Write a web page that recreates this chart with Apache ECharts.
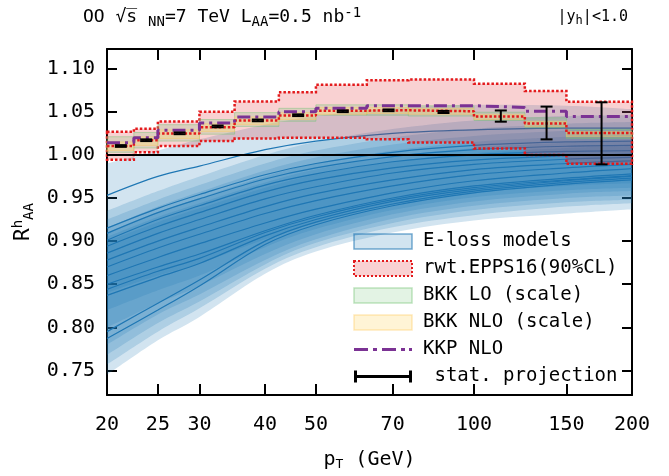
<!DOCTYPE html>
<html>
<head>
<meta charset="utf-8">
<script src="https://cdn.jsdelivr.net/npm/echarts@6/dist/echarts.min.js"></script>
<style>
html,body{margin:0;padding:0;background:#fff;}
#chartmain{width:669px;height:476px;}
</style>
</head>
<body>
<div id="chartmain"></div>
<script>
// pT grid of the E-loss curves (GeV)
var ptGrid=[20,25,30,40,50,70,100,150,200];

// E-loss model lines
var eloss1 =[0.953,0.975,0.987,1.006,1.016,1.025,1.029,1.031,1.031];
var eloss2 =[0.909,0.933,0.949,0.972,0.985,0.998,1.006,1.010,1.011];
var eloss3 =[0.901,0.925,0.941,0.965,0.978,0.992,1.000,1.004,1.005];
var eloss4 =[0.894,0.917,0.933,0.957,0.971,0.985,0.994,0.999,1.001];
var eloss5 =[0.886,0.909,0.925,0.949,0.963,0.979,0.989,0.995,0.997];
var eloss6 =[0.878,0.900,0.916,0.940,0.955,0.971,0.983,0.990,0.993];
var eloss7 =[0.870,0.892,0.908,0.932,0.947,0.964,0.977,0.985,0.989];
var eloss8 =[0.860,0.881,0.897,0.921,0.937,0.956,0.970,0.979,0.984];
var eloss9 =[0.850,0.870,0.885,0.912,0.930,0.950,0.964,0.973,0.978];
var eloss10=[0.844,0.865,0.880,0.910,0.928,0.948,0.962,0.971,0.976];
var eloss11=[0.837,0.858,0.874,0.906,0.925,0.946,0.960,0.970,0.975];
var eloss12=[0.795,0.828,0.855,0.900,0.922,0.943,0.958,0.968,0.973];
var eloss13=[0.787,0.820,0.848,0.896,0.919,0.941,0.956,0.966,0.971];
var eloss14=[0.915,0.938,0.954,0.977,0.990,1.003,1.011,1.015,1.016];

// E-loss model uncertainty bands (lower / upper)
var band1Lo=[0.745,0.785,0.812,0.862,0.888,0.910,0.924,0.932,0.937];
var band1Hi=[0.990,1.005,1.018,1.035,1.045,1.054,1.058,1.057,1.053];
var band2Lo=[0.757,0.795,0.822,0.868,0.893,0.916,0.930,0.940,0.944];
var band2Hi=[0.935,0.958,0.975,1.000,1.015,1.030,1.040,1.045,1.046];
var band3Lo=[0.768,0.805,0.830,0.873,0.898,0.921,0.936,0.945,0.948];
var band3Hi=[0.925,0.948,0.965,0.990,1.005,1.020,1.030,1.036,1.038];
var band4Lo=[0.780,0.815,0.838,0.878,0.902,0.926,0.941,0.950,0.953];
var band4Hi=[0.915,0.940,0.957,0.982,0.997,1.012,1.022,1.028,1.030];
var band5Lo=[0.800,0.828,0.848,0.885,0.908,0.931,0.946,0.955,0.958];
var band5Hi=[0.910,0.933,0.950,0.975,0.990,1.005,1.015,1.021,1.023];
var band6Lo=[0.820,0.843,0.860,0.893,0.914,0.936,0.951,0.959,0.962];
var band6Hi=[0.905,0.928,0.944,0.968,0.983,0.998,1.008,1.014,1.016];
var band7Lo=[0.840,0.860,0.874,0.902,0.921,0.942,0.956,0.964,0.967];
var band7Hi=[0.900,0.922,0.938,0.962,0.977,0.992,1.002,1.008,1.010];

// binned nPDF predictions
var binEdges=[20,22.5,25,30,35,42.5,50,62.5,75,100,125,150,200];
var eppsUp =[1.0267,1.0304,1.0388,1.050,1.062,1.0726,1.0814,1.0867,1.0874,1.0825,1.074,1.0616];
var eppsLo =[0.9943,1.003,1.0103,1.016,1.019,1.0198,1.0198,1.018,1.0145,1.0075,1.000,0.9897];
var eppsMid=[1.0103,1.017,1.0247,1.032,1.040,1.0456,1.0513,1.0517,1.0506,1.0445,1.0365,1.0255];
var bkkLoLo=[1.003,1.008,1.016,1.024,1.033,1.039,1.046,1.046,1.045,1.040,1.0315,1.019];
var bkkLoHi=[1.021,1.026,1.035,1.041,1.049,1.054,1.058,1.058,1.057,1.0495,1.043,1.0296];
var bkkNloLo=[1.005,1.011,1.019,1.027,1.035,1.041,1.047,1.048,1.047,1.041,1.033,1.021];
var bkkNloHi=[1.015,1.021,1.029,1.036,1.044,1.049,1.055,1.055,1.054,1.047,1.039,1.027];
var kkpNlo =[1.014,1.020,1.0285,1.037,1.0438,1.050,1.054,1.057,1.057,1.055,1.0505,1.0445];

// stat. projection
var statPt =[21.25,23.75,27.5,32.5,38.75,46.25,56.25,68.75,87.5,112.5,137.5,175];
var statVal=[1.0103,1.017,1.025,1.033,1.040,1.046,1.0506,1.0517,1.0498,1.045,1.037,1.025];
var statErr=[0.001,0.001,0.001,0.001,0.001,0.001,0.001,0.001,0.0012,0.0065,0.019,0.036];

var xTicks=[20,25,30,40,50,70,100,150,200];
var yTicks=[0.75,0.80,0.85,0.90,0.95,1.00,1.05,1.10];

var FONT="'DejaVu Sans Mono', monospace";
var BLUE='#1f77b4';

function pairs(xs,ys){
	var out=[];
	for(var i=0;i<xs.length;i++) out.push([xs[i],ys[i]]);
	return out;
}
function stepPairs(vals){
	var out=[];
	for(var i=0;i<vals.length;i++) out.push([binEdges[i],vals[i]]);
	out.push([binEdges[vals.length],vals[vals.length-1]]);
	return out;
}
function binRects(lo,hi){
	var out=[];
	for(var i=0;i<lo.length;i++) out.push([binEdges[i],binEdges[i+1],lo[i],hi[i]]);
	return out;
}
// catmull-rom style curve through screen points, as svg path commands
function curveCmds(p){
	var d='';
	for(var i=0;i<p.length-1;i++){
		var a=p[i>0?i-1:i], b=p[i], c=p[i+1], e=p[i+2<p.length?i+2:i+1];
		var c1=[b[0]+(c[0]-a[0])/6, b[1]+(c[1]-a[1])/6];
		var c2=[c[0]-(e[0]-b[0])/6, c[1]-(e[1]-b[1])/6];
		d+=' C'+c1[0]+','+c1[1]+' '+c2[0]+','+c2[1]+' '+c[0]+','+c[1];
	}
	return d;
}

var series=[];
var bands=[[band1Lo,band1Hi],[band2Lo,band2Hi],[band3Lo,band3Hi],[band4Lo,band4Hi],
	[band5Lo,band5Hi],[band6Lo,band6Hi],[band7Lo,band7Hi]];
var bandData=[];
bands.forEach(function(b){ bandData.push([ptGrid[0],b[0][0]]); });
series.push({
	name:'E-loss models', type:'custom', silent:true, z:1, clip:true,
	data:bandData,
	renderItem:function(params,api){
		var b=bands[params.dataIndex], up=[], lo=[];
		for(var i=0;i<ptGrid.length;i++){
			up.push(api.coord([ptGrid[i],b[1][i]]));
			lo.push(api.coord([ptGrid[ptGrid.length-1-i],b[0][ptGrid.length-1-i]]));
		}
		var d='M'+up[0][0]+','+up[0][1]+curveCmds(up)+' L'+lo[0][0]+','+lo[0][1]+curveCmds(lo)+' Z';
		return {type:'path',shape:{pathData:d},style:{fill:'rgba(31,119,180,0.2)'}};
	}
});

var lines=[eloss1,eloss2,eloss3,eloss4,eloss5,eloss6,eloss7,eloss8,eloss9,eloss10,eloss11,eloss12,eloss13,eloss14];
lines.forEach(function(l,k){
	series.push({
		name:'eloss'+k, type:'line', smooth:0.35, symbol:'none', silent:true,
		lineStyle:{color:BLUE,width:1.2}, data:pairs(ptGrid,l), z:2
	});
});

series.push({
	name:'rwt.EPPS16(90%CL)', type:'custom', silent:true, z:3,
	data:[[binEdges[0],eppsMid[0]]],
	renderItem:function(params,api){
		var pts=[], n=eppsUp.length, i;
		for(i=0;i<n;i++){
			pts.push(api.coord([binEdges[i],eppsUp[i]]));
			pts.push(api.coord([binEdges[i+1],eppsUp[i]]));
		}
		for(i=n-1;i>=0;i--){
			pts.push(api.coord([binEdges[i+1],eppsLo[i]]));
			pts.push(api.coord([binEdges[i],eppsLo[i]]));
		}
		return {type:'polygon',shape:{points:pts},
			style:{fill:'rgba(227,26,28,0.2)',stroke:'#e31a1c',lineWidth:2.5,lineDash:[2.5,2]}};
	}
});

function rectSeries(name,lo,hi,fill,stroke,z){
	return {
		name:name, type:'custom', silent:true, z:z,
		data:binRects(lo,hi),
		encode:{x:[0,1],y:[2,3]},
		renderItem:function(params,api){
			var p0=api.coord([api.value(0),api.value(3)]);
			var p1=api.coord([api.value(1),api.value(2)]);
			return {type:'rect',shape:{x:p0[0],y:p0[1],width:p1[0]-p0[0],height:p1[1]-p0[1]},
				style:{fill:fill,stroke:stroke,lineWidth:1}};
		}
	};
}
series.push(rectSeries('BKK LO (scale)',bkkLoLo,bkkLoHi,'rgba(116,196,118,0.22)','rgba(116,196,118,0.45)',4));
series.push(rectSeries('BKK NLO (scale)',bkkNloLo,bkkNloHi,'rgba(254,217,118,0.35)','rgba(254,200,90,0.4)',4));

series.push({
	name:'epps central', type:'line', step:'end', symbol:'none', silent:true, z:5,
	lineStyle:{color:'#e31a1c',width:2.5,type:[2.5,2]},
	data:stepPairs(eppsMid)
});
series.push({
	name:'KKP NLO', type:'line', step:'end', symbol:'none', silent:true, z:6,
	itemStyle:{color:'#7b3294'},
	lineStyle:{color:'#7b3294',width:3,type:[13,5,3,5]},
	data:stepPairs(kkpNlo)
});
series.push({
	name:'unity', type:'line', symbol:'none', silent:true, z:7,
	lineStyle:{color:'#000',width:2},
	data:[[xTicks[0],1],[xTicks[xTicks.length-1],1]]
});
var statData=[];
for(var i=0;i<statPt.length;i++) statData.push([statPt[i],statVal[i],statVal[i]-statErr[i],statVal[i]+statErr[i]]);
series.push({
	name:' stat. projection', type:'custom', silent:true, z:8,
	data:statData,
	encode:{x:0,y:[1,2,3]},
	renderItem:function(params,api){
		var lo=api.coord([api.value(0),api.value(2)]);
		var hi=api.coord([api.value(0),api.value(3)]);
		var st={stroke:'#000',lineWidth:2};
		return {type:'group',children:[
			{type:'line',shape:{x1:lo[0],y1:lo[1],x2:hi[0],y2:hi[1]},style:st},
			{type:'line',shape:{x1:lo[0]-6,y1:lo[1],x2:lo[0]+6,y2:lo[1]},style:st},
			{type:'line',shape:{x1:hi[0]-6,y1:hi[1],x2:hi[0]+6,y2:hi[1]},style:st}
		]};
	}
});

var axisLineStyle={color:'#000',width:2};
var tickStyle={color:'#000',width:2};

var option={
	animation:false,
	textStyle:{fontFamily:FONT},
	title:[{
		text:'OO √s̅ {sub|NN}=7 TeV L{sub|AA}=0.5 nb{sup|-1}',
		left:78, top:1,
		textStyle:{fontFamily:FONT,fontSize:18,fontWeight:'normal',color:'#000',
			rich:{sub:{fontSize:14,padding:[9,0,0,0],fontFamily:FONT},sup:{fontSize:14,padding:[0,0,9,0],fontFamily:FONT}}}
	},{
		text:'|y{sub|h}|<1.0',
		right:36, top:2,
		textStyle:{fontFamily:FONT,fontSize:15,fontWeight:'normal',color:'#000',
			rich:{sub:{fontSize:12,padding:[8,0,0,0],fontFamily:FONT}}}
	}],
	grid:{left:107,right:37,top:49,bottom:75},
	legend:{
		orient:'vertical', left:348, top:227, itemWidth:58, itemHeight:15, itemGap:8,
		selectedMode:false, symbolKeepAspect:true,
		textStyle:{fontFamily:FONT,fontSize:19,color:'#000',padding:[0,0,0,6]},
		data:[
			{name:'E-loss models',icon:'rect',itemStyle:{color:'rgba(31,119,180,0.2)',borderColor:'rgba(31,119,180,0.6)',borderWidth:1.5}},
			{name:'rwt.EPPS16(90%CL)',icon:'rect',itemStyle:{color:'rgba(227,26,28,0.2)',borderColor:'#e31a1c',borderWidth:2,borderType:[2,2]}},
			{name:'BKK LO (scale)',icon:'rect',itemStyle:{color:'rgba(116,196,118,0.2)',borderColor:'rgba(116,196,118,0.45)',borderWidth:1.5}},
			{name:'BKK NLO (scale)',icon:'rect',itemStyle:{color:'rgba(254,217,118,0.3)',borderColor:'rgba(254,200,90,0.4)',borderWidth:1.5}},
			{name:'KKP NLO',icon:'path://M0,0h14v3h-14zM19,0h4v3h-4zM28,0h14v3h-14zM47,0h4v3h-4zM55,0h3v3h-3z',itemStyle:{color:'#7b3294'}},
			{name:' stat. projection',icon:'path://M0,0h3v12h-3zM0,4.5h58v3h-58zM55,0h3v12h-3z',itemStyle:{color:'#000'}}
		]
	},
	xAxis:[{
		type:'log', logBase:10, min:20, max:200, position:'bottom',
		axisLine:{show:true,onZero:false,lineStyle:axisLineStyle},
		axisTick:{show:true,inside:true,length:11,lineStyle:tickStyle,customValues:xTicks},
		axisLabel:{customValues:xTicks,margin:20,color:'#000',fontFamily:FONT,fontSize:20,
			formatter:function(v){return String(Math.round(v));}},
		splitLine:{show:false}, minorTick:{show:false},
		name:'p{sub|T} (GeV)', nameLocation:'middle', nameGap:53,
		nameTextStyle:{fontFamily:FONT,fontSize:20,color:'#000',
			rich:{sub:{fontSize:13,padding:[10,0,0,0],fontFamily:FONT}}}
	},{
		type:'log', logBase:10, min:20, max:200, position:'top',
		axisLine:{show:true,onZero:false,lineStyle:axisLineStyle},
		axisTick:{show:true,inside:true,length:11,lineStyle:tickStyle,customValues:xTicks},
		axisLabel:{show:false}, splitLine:{show:false}, minorTick:{show:false}
	}],
	yAxis:[{
		type:'value', min:0.7215, max:1.1228, position:'left',
		axisLine:{show:true,onZero:false,lineStyle:axisLineStyle},
		axisTick:{show:true,inside:true,length:10,lineStyle:tickStyle,customValues:yTicks},
		axisLabel:{customValues:yTicks,margin:12,color:'#000',fontFamily:FONT,fontSize:20,
			formatter:function(v){return v.toFixed(2);}},
		splitLine:{show:false},
		name:'R{sup|h}{sub|AA}', nameLocation:'middle', nameGap:58,
		nameTextStyle:{fontFamily:FONT,fontSize:21,color:'#000',
			rich:{sup:{fontSize:14,padding:[0,0,12,0],fontFamily:FONT},sub:{fontSize:14,padding:[10,0,0,0],fontFamily:FONT}}}
	},{
		type:'value', min:0.7215, max:1.1228, position:'right',
		axisLine:{show:true,onZero:false,lineStyle:axisLineStyle},
		axisTick:{show:true,inside:true,length:10,lineStyle:tickStyle,customValues:yTicks},
		axisLabel:{show:false}, splitLine:{show:false}
	}],
	series:series
};

var myChart=echarts.init(document.getElementById('chartmain'));
myChart.setOption(option);
</script>
</body>
</html>
